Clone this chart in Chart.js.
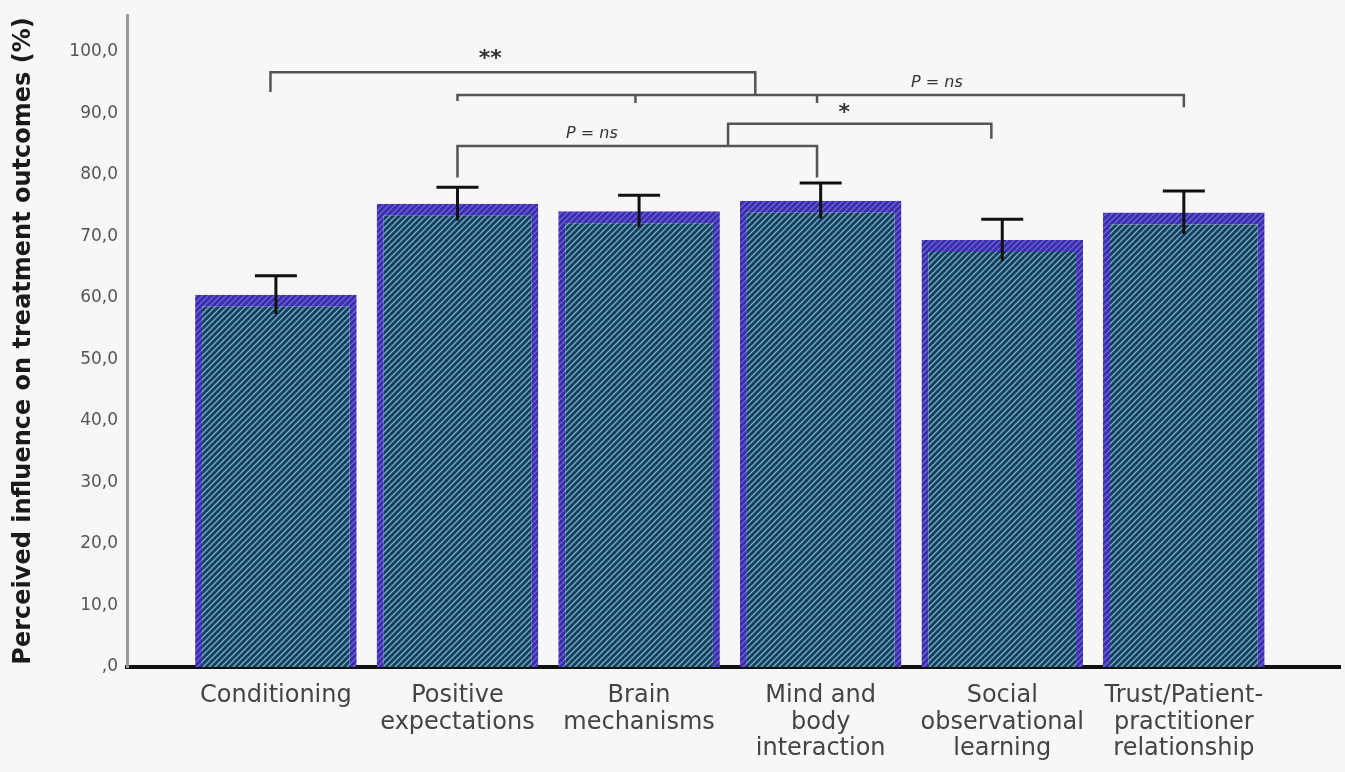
<!DOCTYPE html>
<html>
<head>
<meta charset="utf-8">
<script src="https://cdn.jsdelivr.net/npm/chart.js@4.4.1/dist/chart.umd.min.js"></script>
<style>
  html, body { margin: 0; padding: 0; background: #f7f7f7; }
  #wrap { width: 1345px; height: 772px; position: relative; }
</style>
</head>
<body>
<div id="wrap"><canvas id="chart"></canvas></div>
<script>
// categories (multi-line labels) and values
const categories = [
    ['Conditioning'],
    ['Positive', 'expectations'],
    ['Brain', 'mechanisms'],
    ['Mind and', 'body', 'interaction'],
    ['Social', 'observational', 'learning'],
    ['Trust/Patient-', 'practitioner', 'relationship']
];
const meanValues = [60.5, 75.3, 74.1, 75.8, 69.4, 73.9];
const errorUpper = [63.6, 78.0, 76.7, 78.7, 72.8, 77.4];
const errorLower = [57.4, 72.6, 71.5, 72.9, 66.0, 70.4];
const yTicks = [0, 10, 20, 30, 40, 50, 60, 70, 80, 90, 100];

// significance brackets, in data units (x = category index, y = %)
const brackets = [
    { from: -0.03, to: 2.64, y: 96.7, legs: [93.5, 93.0], label: '**', lx: 1.18, ly: 98.8, bold: true },
    { from: 1.0, to: 5.0, y: 93.0, legs: [92.0, 91.0], ticks: [1.98, 2.98], label: 'P = ns', lx: 3.64, ly: 95.0 },
    { from: 2.49, to: 3.94, y: 88.3, legs: [84.7, 85.9], label: '*', lx: 3.13, ly: 90.0, bold: true },
    { from: 1.0, to: 2.98, y: 84.7, legs: [79.6, 79.6], label: 'P = ns', lx: 1.74, ly: 86.6 }
];

const FONT = '"DejaVu Sans", Verdana, sans-serif';

function makeHatch(base, line) {
    const c = document.createElement('canvas');
    c.width = 6; c.height = 6;
    const g = c.getContext('2d');
    g.fillStyle = base;
    g.fillRect(0, 0, 6, 6);
    g.strokeStyle = line;
    g.lineWidth = 1.4;
    g.beginPath();
    g.moveTo(0, 6); g.lineTo(6, 0);
    g.moveTo(-3, 3); g.lineTo(3, -3);
    g.moveTo(3, 9); g.lineTo(9, 3);
    g.stroke();
    return g.createPattern(c, 'repeat');
}

const barFill = makeHatch('#1a3c58', '#68b0cd');
const barEdge = makeHatch('#3a2ea8', '#6e62dc');

const errorBars = {
    id: 'errorBars',
    afterDatasetsDraw(chart) {
        const ctx = chart.ctx;
        const xs = chart.scales.x, ys = chart.scales.y;
        ctx.save();
        ctx.strokeStyle = '#111';
        ctx.lineWidth = 3;
        meanValues.forEach((v, i) => {
            const x = xs.getPixelForValue(i);
            const top = ys.getPixelForValue(errorUpper[i]);
            const low = ys.getPixelForValue(errorLower[i]);
            ctx.beginPath();
            ctx.moveTo(x, low); ctx.lineTo(x, top);
            ctx.moveTo(x - 21, top); ctx.lineTo(x + 21, top);
            ctx.stroke();
        });
        ctx.restore();
    }
};

const sigBrackets = {
    id: 'sigBrackets',
    afterDraw(chart) {
        const ctx = chart.ctx;
        const xs = chart.scales.x, ys = chart.scales.y;
        ctx.save();
        ctx.strokeStyle = '#555';
        ctx.lineWidth = 2.5;
        brackets.forEach(b => {
            const x1 = xs.getPixelForValue(b.from), x2 = xs.getPixelForValue(b.to);
            const y = ys.getPixelForValue(b.y);
            ctx.beginPath();
            ctx.moveTo(x1, ys.getPixelForValue(b.legs[0]));
            ctx.lineTo(x1, y);
            ctx.lineTo(x2, y);
            ctx.lineTo(x2, ys.getPixelForValue(b.legs[1]));
            (b.ticks || []).forEach(t => {
                const tx = xs.getPixelForValue(t);
                ctx.moveTo(tx, y);
                ctx.lineTo(tx, y + 8);
            });
            ctx.stroke();
            ctx.fillStyle = '#333';
            ctx.textAlign = 'center';
            ctx.textBaseline = 'middle';
            ctx.font = b.bold ? 'bold 22px ' + FONT : 'italic 16px ' + FONT;
            ctx.fillText(b.label, xs.getPixelForValue(b.lx), ys.getPixelForValue(b.ly));
        });
        ctx.restore();
    }
};

new Chart(document.getElementById('chart'), {
    type: 'bar',
    data: {
        datasets: [{
            data: meanValues.map((v, i) => ({ x: i, y: v })),
            backgroundColor: barFill,
            borderColor: barEdge,
            borderWidth: { top: 12, left: 7, right: 7, bottom: 0 },
            borderSkipped: 'start',
            barPercentage: 0.89,
            categoryPercentage: 1
        }]
    },
    options: {
        responsive: true,
        maintainAspectRatio: false,
        animation: false,
        layout: { padding: { top: 15, right: 5, left: 0, bottom: 0 } },
        plugins: {
            legend: { display: false },
            tooltip: { enabled: false }
        },
        scales: {
            x: {
                type: 'linear',
                offset: false,
                min: -0.82,
                max: 5.86,
                grid: { display: false },
                border: { color: '#111', width: 4 },
                afterBuildTicks: (scale) => { scale.ticks = categories.map((c, i) => ({ value: i })); },
                afterFit: (scale) => { scale.height = 105; },
                ticks: {
                    autoSkip: false,
                    maxRotation: 0,
                    padding: 8,
                    color: '#444',
                    font: { family: FONT, size: 24, lineHeight: 1.1 },
                    callback: (v) => categories[v]
                }
            },
            y: {
                min: 0,
                max: 106,
                grid: { display: false },
                border: { color: '#999', width: 3 },
                afterBuildTicks: (scale) => { scale.ticks = yTicks.map(v => ({ value: v })); },
                afterFit: (scale) => { scale.width = 127; },
                title: {
                    display: true,
                    text: 'Perceived influence on treatment outcomes (%)',
                    color: '#1a1a1a',
                    font: { family: FONT, size: 24, weight: 'bold' },
                    padding: { top: 9, bottom: 0 }
                },
                ticks: {
                    padding: 1,
                    color: '#555',
                    font: { family: FONT, size: 17 },
                    callback: (v) => v === 0 ? ',0' : v.toFixed(1).replace('.', ',')
                }
            }
        }
    },
    plugins: [errorBars, sigBrackets]
});
</script>
</body>
</html>
